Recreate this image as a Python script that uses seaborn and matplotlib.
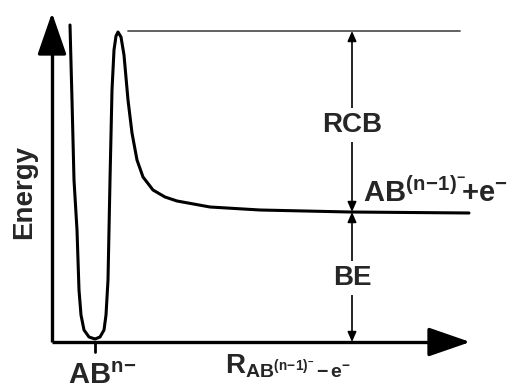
import matplotlib
matplotlib.use("Agg")
import matplotlib.pyplot as plt
import seaborn as sns
import pandas as pd

sns.set_theme(style="white")
plt.rcParams["font.family"] = ["Liberation Sans", "DejaVu Sans"]
plt.rcParams["font.weight"] = "bold"
plt.rcParams["mathtext.fontset"] = "custom"
plt.rcParams["mathtext.rm"] = "Liberation Sans:bold"
plt.rcParams["mathtext.it"] = "Liberation Sans:bold"
plt.rcParams["mathtext.bf"] = "Liberation Sans:bold"
plt.rcParams["mathtext.sf"] = "Liberation Sans:bold"

# Potential energy curve (R = separation, E = energy)
R = [18, 20, 22, 25, 27, 29, 32, 37, 43, 48, 52, 54, 56, 57, 58, 59, 60, 62,
     64, 66, 69, 72, 76, 80, 85, 91, 101, 113, 125, 158, 208, 298, 417]
E = [317, 242, 162, 112, 52, 27, 12, 5, 3, 5, 12, 27, 62, 112, 162, 207, 252, 292,
     306, 310, 305, 287, 242, 209, 182, 165, 152, 145, 141, 135, 132, 130, 129]

barrier_top = 311        # E at the top of the repulsive Coulomb barrier
asymptote = 130          # E of AB(n-1)- + e-
barrier_line_R = [76, 408]
arrow_R = 300
well_R = 43
axis_end_R = 421
axis_end_E = 332

df = pd.DataFrame({"R": R, "E": E})

fig = plt.figure(figsize=(5.22, 3.91), dpi=100)
ax = fig.add_axes([0, 0, 1, 1])
ax.set_xlim(-52, 470)
ax.set_ylim(-49, 342)
ax.axis("off")

sns.lineplot(data=df, x="R", y="E", sort=False, color="black", lw=2.2, ax=ax)

# axes with arrowheads
ax.plot([0, axis_end_R - 20], [0, 0], color="black", lw=2.4, solid_capstyle="butt")
ax.plot([0, 0], [0, axis_end_E - 20], color="black", lw=2.4, solid_capstyle="butt")
ax.annotate("", xy=(axis_end_R, 0), xytext=(axis_end_R - 30, 0),
            arrowprops=dict(arrowstyle="-|>,head_length=1.3,head_width=0.45",
                            color="black", lw=2.4, mutation_scale=20))
ax.annotate("", xy=(0, axis_end_E), xytext=(0, axis_end_E - 30),
            arrowprops=dict(arrowstyle="-|>,head_length=1.3,head_width=0.45",
                            color="black", lw=2.4, mutation_scale=20))

# barrier-top reference line
ax.plot(barrier_line_R, [barrier_top, barrier_top], color="#555555", lw=1.3)

# tick at the well minimum
ax.plot([well_R, well_R], [0, -10], color="black", lw=2.0)

# double-headed arrows
arrow_kw = dict(arrowstyle="<|-|>,head_length=0.5,head_width=0.22",
                color="black", lw=1.2, mutation_scale=12, shrinkA=0, shrinkB=0)
ax.annotate("", xy=(arrow_R, barrier_top), xytext=(arrow_R, asymptote),
            arrowprops=arrow_kw, zorder=2)
ax.annotate("", xy=(arrow_R, asymptote), xytext=(arrow_R, 0),
            arrowprops=arrow_kw, zorder=2)

box = dict(facecolor="white", edgecolor="none", pad=3)
ax.text(arrow_R, 217, "RCB", ha="center", va="center", fontsize=20,
        fontweight="bold", bbox=box, zorder=5)
ax.text(arrow_R, 64, "BE", ha="center", va="center", fontsize=20,
        fontweight="bold", bbox=box, zorder=5)

ax.text(-28, 150, "Energy", rotation=90, ha="center", va="center",
        fontsize=20, fontweight="bold")

ax.text(311, 140, r"$\mathrm{AB}^{\mathrm{(n\!-\!1)}^{-}}\!\mathrm{+e}^{-}$",
        ha="left", va="baseline", fontsize=21)

ax.text(16, -48.5, r"$\mathrm{AB}^{\mathrm{n\!-}}$", ha="left", va="bottom",
        fontsize=21)

ax.text(173, -31, r"$\mathrm{R}_{\mathrm{AB}^{\mathrm{(n\!-\!1)}^{-}}\,\mathrm{-\,e}^{-}}$",
        ha="left", va="baseline", fontsize=20)

fig.savefig("out.png", dpi=100)
